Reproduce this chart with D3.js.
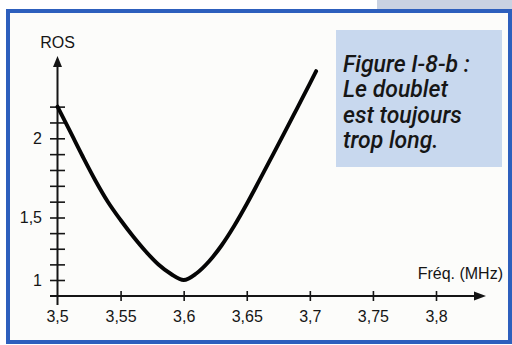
<!DOCTYPE html>
<html>
<head>
<meta charset="utf-8">
<script src="https://cdn.jsdelivr.net/npm/d3@7"></script>
<style>
  html, body { margin: 0; padding: 0; background: #ffffff; }
  svg { display: block; }
</style>
</head>
<body>
<svg id="chart" width="512" height="345"></svg>
<script>
// SWR (ROS) of a dipole versus frequency
const freq = [3.5, 3.51, 3.52, 3.53, 3.54, 3.55, 3.56, 3.57, 3.58, 3.59, 3.6,
              3.61, 3.62, 3.63, 3.64, 3.65, 3.66, 3.67, 3.68, 3.69, 3.7, 3.705];
const ros  = [2.2, 2.043, 1.885, 1.734, 1.598, 1.48, 1.348, 1.228, 1.124, 1.048, 1.0,
              1.052, 1.148, 1.276, 1.432, 1.585, 1.734, 1.885, 2.037, 2.191, 2.345, 2.424];

const xTicks = [3.5, 3.55, 3.6, 3.65, 3.7, 3.75, 3.8];
const xTickLabels = ["3,5", "3,55", "3,6", "3,65", "3,7", "3,75", "3,8"];
const yTicks = [1, 1.125, 1.25, 1.375, 1.5, 1.6, 1.7, 1.8, 1.9, 2, 2.1, 2.2];
const yLabelled = [1, 1.5, 2];
const yTickLabels = ["1", "1,5", "2"];
const captionLines = ["Figure I-8-b :", "Le doublet", "est toujours", "trop long."];
const xTitle = "Fréq. (MHz)";
const yTitle = "ROS";

const svg = d3.select("#chart");

// page furniture: tab, frame, caption box
svg.append("rect").attr("x", 377).attr("y", 0).attr("width", 135).attr("height", 10)
  .attr("fill", "#c9d2e2");
svg.append("rect").attr("x", 8).attr("y", 11).attr("width", 502).attr("height", 331)
  .attr("fill", "#fcfcfa").attr("stroke", "#2d5fbd").attr("stroke-width", 4);
svg.append("rect").attr("x", 336).attr("y", 30).attr("width", 166).attr("height", 137)
  .attr("fill", "#c8d8ee");

const caption = svg.append("text")
  .attr("x", 343).attr("y", 72)
  .attr("font-family", "Roboto, 'Liberation Sans', sans-serif")
  .attr("font-style", "italic").attr("font-weight", 500)
  .attr("font-size", 23).attr("fill", "#161616");
captionLines.forEach((t, i) => {
  caption.append("tspan").attr("x", 343).attr("y", 72 + i * 25.3).text(t);
});

// scales: the printed ROS axis is uneven (4 steps to 1,5 then 5 steps to 2)
const x = d3.scaleLinear().domain([3.5, 3.8]).range([57.5, 436]);
const y = d3.scaleLinear().domain([1, 1.5, 2]).range([280, 217.5, 138.3]);

const axisFont = "'Liberation Sans', Arial, sans-serif";
const ink = "#151515";

// x axis ticks (crossing the axis line)
const xAxis = d3.axisBottom(x)
  .tickValues(xTicks.slice(1))
  .tickSize(10)
  .tickFormat(d => xTickLabels[xTicks.indexOf(d)]);
const gx = svg.append("g").attr("transform", "translate(0,296)").call(xAxis);
gx.select(".domain").remove();
gx.selectAll(".tick line").attr("y1", -5).attr("y2", 5)
  .attr("stroke", ink).attr("stroke-width", 1.6);
gx.selectAll(".tick text").attr("y", 15).attr("dy", "0.71em")
  .attr("font-family", axisFont).attr("font-size", 16).attr("fill", ink);
// label under the origin
svg.append("text").attr("x", x(3.5)).attr("y", 322)
  .attr("text-anchor", "middle").attr("font-family", axisFont)
  .attr("font-size", 16).attr("fill", ink).text(xTickLabels[0]);

// y axis ticks (crossing the axis line), labels only on 1, 1,5 and 2
const yAxis = d3.axisLeft(y)
  .tickValues(yTicks)
  .tickSize(15)
  .tickFormat(d => {
    const i = yLabelled.indexOf(d);
    return i >= 0 ? yTickLabels[i] : "";
  });
const gy = svg.append("g").attr("transform", "translate(57.5,0)").call(yAxis);
gy.select(".domain").remove();
gy.selectAll(".tick line").attr("x1", -7.5).attr("x2", 7.5)
  .attr("stroke", ink).attr("stroke-width", 1.6);
gy.selectAll(".tick text").attr("x", -15.5)
  .attr("font-family", axisFont).attr("font-size", 16).attr("fill", ink);

// axis lines with arrow heads
svg.append("line").attr("x1", 50).attr("y1", 296).attr("x2", 478).attr("y2", 296)
  .attr("stroke", ink).attr("stroke-width", 2);
svg.append("path").attr("d", "M486,296 L474,291.5 L474,300.5 Z").attr("fill", ink);
svg.append("line").attr("x1", 57.5).attr("y1", 305).attr("x2", 57.5).attr("y2", 64)
  .attr("stroke", ink).attr("stroke-width", 2);
svg.append("path").attr("d", "M57.5,56 L53,67 L62,67 Z").attr("fill", ink);

// axis titles
svg.append("text").attr("x", 57.5).attr("y", 47.5).attr("text-anchor", "middle")
  .attr("font-family", axisFont).attr("font-size", 16).attr("fill", ink).text(yTitle);
svg.append("text").attr("x", 503).attr("y", 279).attr("text-anchor", "end")
  .attr("font-family", axisFont).attr("font-size", 16).attr("fill", ink).text(xTitle);

// the SWR curve
const pts = freq.map((f, i) => [f, ros[i]]);
const line = d3.line().x(d => x(d[0])).y(d => y(d[1])).curve(d3.curveMonotoneX);
svg.append("path").datum(pts).attr("d", line)
  .attr("fill", "none").attr("stroke", "#050505").attr("stroke-width", 3.9)
  .attr("stroke-linecap", "round").attr("stroke-linejoin", "round");
</script>
</body>
</html>
